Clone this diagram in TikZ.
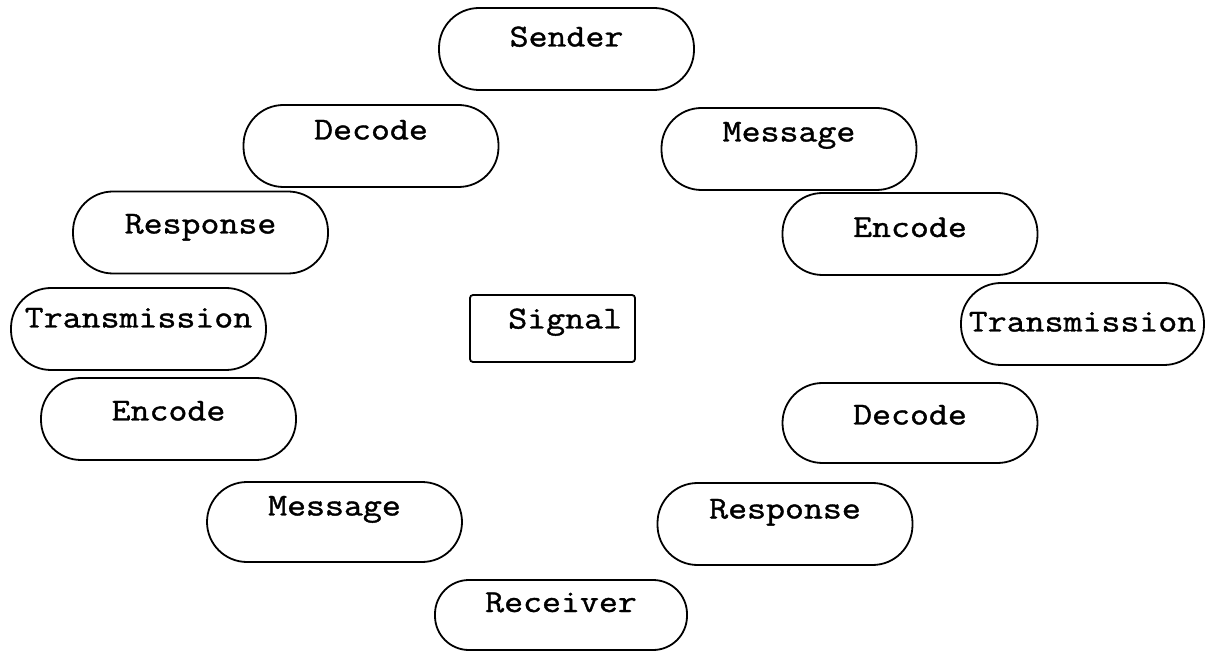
\documentclass[tikz,border=0pt]{standalone}
\usepackage{fontspec}
\newfontfamily\tw{Latin Modern Mono}[FakeStretch=1.15, FakeBold=1.2]
\begin{document}
\begin{tikzpicture}[x=0.5pt,y=-0.5pt,
  oval/.style={draw=black, line width=0.9pt, rounded corners=20pt,
    inner xsep=0pt, inner ysep=0pt, minimum width=127.5pt, minimum height=41pt,
    font=\tw\fontsize{16}{18}\selectfont, text height=9.5pt, text depth=#1},
  oval/.default=11pt,
  sigbox/.style={draw=black, line width=0.9pt, rounded corners=1.5pt,
    inner xsep=6.5pt, inner ysep=0pt, text width=69.5pt, align=right,
    minimum height=33.5pt,
    font=\tw\fontsize{16}{18}\selectfont, text height=9.5pt, text depth=#1}]
\useasboundingbox (0,0) rectangle (1206,652);

\node[oval=12pt]   (sender)   at (566.5,49)   {Sender};
\node[oval=16pt]   (decodeL)  at (371,146)    {Decode};
\node[oval=17pt]   (messageR) at (789,149)    {Message};
\node[oval=8.5pt]  (responseL) at (200.5,232.5) {Response};
\node[oval=6.5pt]  (encodeR)  at (910,234)    {Encode};
\node[oval=2pt, minimum width=121.5pt] (transR) at (1082.5,324) {Transmission};
\node[oval=11pt]   (transL)   at (138.5,329)  {Transmission};
\node[oval=8pt]    (encodeL)  at (168.5,419)  {Encode};
\node[oval=8pt, minimum height=40pt] (decodeR) at (910,423) {Decode};
\node[oval=16pt, minimum height=40pt] (messageL) at (334.5,522) {Message};
\node[oval=15pt]   (responseR) at (785,524)   {Response};
\node[oval=12.5pt, minimum height=35pt, minimum width=126pt, rounded corners=17pt] (receiver) at (561,615) {Receiver};

\node[sigbox=9.5pt] (signal) at (552.5,328.5) {Signal};
\end{tikzpicture}
\end{document}
